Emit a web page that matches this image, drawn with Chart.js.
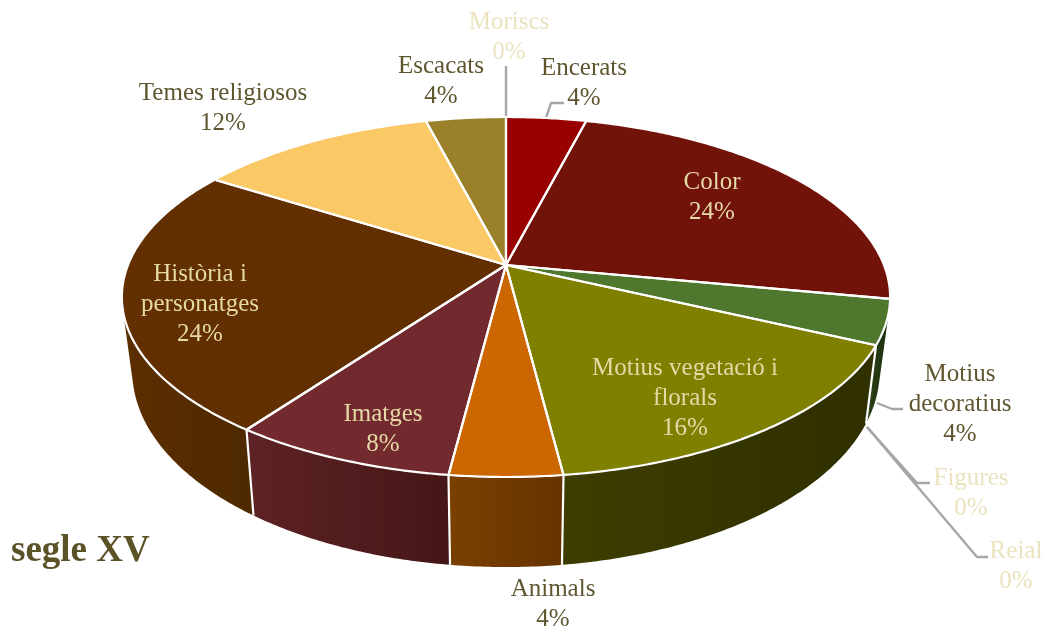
<!DOCTYPE html>
<html lang="ca">
<head>
<meta charset="utf-8">
<title>segle XV</title>
<style>
html,body{margin:0;padding:0;background:#fff;}
canvas{display:block;}
</style>
<script src="https://cdn.jsdelivr.net/npm/chart.js@4/dist/chart.umd.min.js"></script>
</head>
<body>
<canvas id="c" width="1049" height="631"></canvas>
<script>
// ---- data ----
const categories = ['Encerats','Color','Motius decoratius','Figures','Reial','Motius vegetació i florals','Animals','Imatges','Història i personatges','Temes religiosos','Escacats','Moriscs'];
const values     = [4,24,4,0,0,16,4,8,24,12,4,0];
const chartTitle = 'segle XV';

// ---- styles ----
const topColors  = ['#990000','#72130a','#4f772d','#a08020','#c0a040','#808000','#cc6600','#722a2e','#622f00','#fbc866','#9a8028','#999966'];
const wallLeft   = ['#5c0000','#3a0a05','#2a4016','#000','#000','#3d3d00','#7a4000','#5e2325','#5c2e00','#000','#000','#000'];
const wallRight  = ['#5c0000','#3a0a05','#1c2e0e','#000','#000','#2f2f00','#663300','#451616','#4e2900','#000','#000','#000'];
const DARK='#5f5630', LIGHT='#e6d9a8', FAINT='#ebe3bf', LEADER='#a6a6a6';

// ---- layout of the text and leaders (pixels) ----
const labelLayout = [
  {lines:['Encerats'], x:584, y:68, c:DARK},
  {lines:['Color'], x:712, y:182, c:LIGHT},
  {lines:['Motius','decoratius'], x:960, y:374, c:DARK},
  {lines:['Figures'], x:971, y:478, c:FAINT},
  {lines:['Reial'], x:1016, y:551, c:FAINT},
  {lines:['Motius vegetació i','florals'], x:685, y:368, c:LIGHT},
  {lines:['Animals'], x:553, y:589, c:DARK},
  {lines:['Imatges'], x:383, y:414, c:LIGHT},
  {lines:['Història i','personatges'], x:200, y:274, c:LIGHT},
  {lines:['Temes religiosos'], x:223, y:93, c:DARK},
  {lines:['Escacats'], x:441, y:66, c:DARK},
  {lines:['Moriscs'], x:509, y:22, c:FAINT}
];
const leaders = [
  [[546,118],[551,103],[564,103]],
  [[506,117],[506,66]],
  [[877,403],[892,409],[903,409]],
  [[867,427],[917,483],[930,483]],
  [[867,427],[977,557],[988,557]]
];
// perspective of the disc: top face and bottom face
const P = {x0:506, yTop:265, yBot:336, A:378, B:174.3, c:-0.1778, sx:0.973, sy:1.09};
const project = (ang,face) => {
  const u=Math.cos(ang), v=Math.sin(ang), d=1+P.c*v;
  return face===0
    ? [P.x0+P.A*u/d, P.yTop+P.B*v/d]
    : [P.x0+P.sx*P.A*u/d, P.yBot+P.sy*P.B*v/d];
};
const arcPts = (a,b,face) => {
  const n=Math.max(2,Math.ceil(Math.abs(b-a)/0.01)), pts=[];
  for(let i=0;i<=n;i++) pts.push(project(a+(b-a)*i/n,face));
  return pts;
};
const tracePoly = (ctx,pts) => {
  ctx.beginPath();
  pts.forEach((p,i)=> i?ctx.lineTo(p[0],p[1]):ctx.moveTo(p[0],p[1]));
  ctx.closePath();
};
const tracePath = (ctx,pts) => {
  ctx.beginPath();
  pts.forEach((p,i)=> i?ctx.lineTo(p[0],p[1]):ctx.moveTo(p[0],p[1]));
};
const signedArea = q => q.reduce((s,p,i)=>{const n=q[(i+1)%q.length];return s+p[0]*n[1]-n[0]*p[1];},0);

const pie3d = {
  id:'pie3d',
  beforeDatasetDraw(chart,args){
    const ctx=chart.ctx, arcs=chart.getDatasetMeta(args.index).data;
    ctx.save();
    ctx.lineJoin='round'; ctx.lineCap='butt';
    // leader lines under the disc
    ctx.strokeStyle=LEADER; ctx.lineWidth=2.4;
    leaders.forEach(l=>{tracePath(ctx,l);ctx.stroke();});
    // walls: one path of same-winding quads, so the silhouette stays filled without seams
    arcs.forEach((el,i)=>{
      if(!values[i]) return;
      const a=Math.max(el.startAngle,-0.05), b=Math.min(el.endAngle,Math.PI+0.3);
      if(b<=a) return;
      const t=arcPts(a,b,0), w=arcPts(a,b,1);
      const xs=t.concat(w).map(p=>p[0]);
      const g=ctx.createLinearGradient(Math.min(...xs),0,Math.max(...xs),0);
      g.addColorStop(0,wallLeft[i]); g.addColorStop(1,wallRight[i]);
      ctx.fillStyle=g;
      ctx.beginPath();
      for(let k=0;k<t.length-1;k++){
        let q=[t[k],t[k+1],w[k+1],w[k]];
        if(signedArea(q)<0) q=q.reverse();
        q.forEach((p,j)=> j?ctx.lineTo(p[0],p[1]):ctx.moveTo(p[0],p[1]));
        ctx.closePath();
      }
      ctx.fill('nonzero');
    });
    // wall edges between the slices
    ctx.strokeStyle='#ffffff'; ctx.lineWidth=2.2;
    arcs.forEach((el,i)=>{
      if(!values[i]) return;
      if(Math.sin(el.startAngle)>0.25){
        tracePath(ctx,[project(el.startAngle,0),project(el.startAngle,1)]);
        ctx.stroke();
      }
    });
    // top faces
    arcs.forEach((el,i)=>{
      if(!values[i]) return;
      tracePoly(ctx,[[P.x0,P.yTop]].concat(arcPts(el.startAngle,el.endAngle,0)));
      ctx.fillStyle=topColors[i]; ctx.fill();
    });
    arcs.forEach((el,i)=>{
      if(!values[i]) return;
      tracePoly(ctx,[[P.x0,P.yTop]].concat(arcPts(el.startAngle,el.endAngle,0)));
      ctx.strokeStyle='#ffffff'; ctx.lineWidth=2.2; ctx.stroke();
    });
    ctx.restore();
    return false;
  },
  afterDraw(chart){
    const ctx=chart.ctx;
    ctx.save();
    ctx.textAlign='center'; ctx.textBaseline='middle';
    ctx.font='25px "Liberation Serif", serif';
    labelLayout.forEach((l,i)=>{
      ctx.fillStyle=l.c;
      const lines=l.lines.concat([values[i]+'%']);
      lines.forEach((s,k)=>ctx.fillText(s,l.x,l.y+k*30));
    });
    ctx.textAlign='left';
    ctx.font='bold 37px "Liberation Serif", serif';
    ctx.fillStyle='#5c5228';
    ctx.fillText(chartTitle,11,551);
    ctx.restore();
  }
};

new Chart(document.getElementById('c'),{
  type:'pie',
  data:{labels:categories,datasets:[{data:values,backgroundColor:topColors,borderColor:'#ffffff',borderWidth:2}]},
  options:{
    responsive:false,
    animation:false,
    plugins:{legend:{display:false},tooltip:{enabled:false},title:{display:false}}
  },
  plugins:[pie3d]
});
</script>
</body>
</html>
